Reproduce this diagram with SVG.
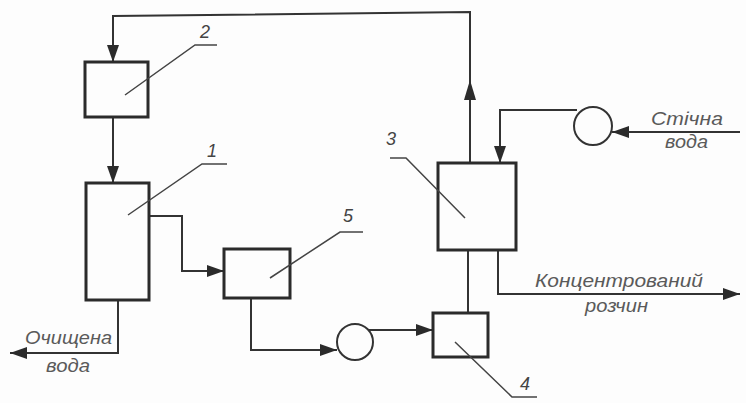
<svg xmlns="http://www.w3.org/2000/svg" width="746" height="403" viewBox="0 0 746 403">
<style>
.bx{fill:none;stroke:#2b2b2b;stroke-width:3}
.ln{fill:none;stroke:#333;stroke-width:2}
.ld{fill:none;stroke:#444;stroke-width:1.5}
.tx{font-family:"Liberation Sans",Arial,sans-serif;font-style:italic;font-size:19px;fill:#5a5a5a}
.num{font-family:"Liberation Sans",Arial,sans-serif;font-style:italic;font-size:18px;fill:#444;text-anchor:middle}
</style>
<defs>
<marker id="ar" markerUnits="userSpaceOnUse" markerWidth="18" markerHeight="14" refX="17" refY="6" orient="auto">
<path d="M0,0 L17,6 L0,12 Z" fill="#2b2b2b"/>
</marker>
</defs>
<rect width="746" height="403" fill="#fdfdfd"/>
<g id="connectors">
<path class="ln" d="M470,163 L470,12 L113,16 L113,62" marker-end="url(#ar)"/>
<polygon points="470,80 464,100 476,100" fill="#2b2b2b"/>
<path class="ln" d="M113,117 L113,183" marker-end="url(#ar)"/>
<path class="ln" d="M149,216 L182,216 L182,271 L224,271" marker-end="url(#ar)"/>
<path class="ln" d="M118,300 L118,353 L10,353" marker-end="url(#ar)"/>
<path class="ln" d="M251,298 L251,350 L337,350" marker-end="url(#ar)"/>
<path class="ln" d="M368,330 L433,330" marker-end="url(#ar)"/>
<path class="ln" d="M468,250 L468,313"/>
<path class="ln" d="M498,250 L498,294 L740,294" marker-end="url(#ar)"/>
<path class="ln" d="M740,132 L612,132" marker-end="url(#ar)"/>
<path class="ln" d="M577,110 L500,110 L500,163" marker-end="url(#ar)"/>
</g>
<g id="node2">
<rect class="bx" x="85" y="62" width="63" height="55"/>
<path class="ld" d="M125,95 L195,45 L217,45"/>
<text class="num" x="205" y="38">2</text>
</g>
<g id="node1">
<rect class="bx" x="86" y="183" width="63" height="117"/>
<path class="ld" d="M128,215 L202,164 L227,164"/>
<text class="num" x="212" y="157">1</text>
</g>
<g id="node5">
<rect class="bx" x="224" y="249" width="66" height="49"/>
<path class="ld" d="M270,278 L340,232 L363,232"/>
<text class="num" x="348" y="222">5</text>
</g>
<g id="node3">
<rect class="bx" x="438" y="163" width="78" height="87"/>
<path class="ld" d="M390,158 L406,158 L465,218"/>
<text class="num" x="391" y="145">3</text>
</g>
<g id="node4">
<rect class="bx" x="433" y="313" width="55" height="44"/>
<path class="ld" d="M455,342 L512,397 L537,397"/>
<text class="num" x="525" y="390">4</text>
</g>
<g id="pump1">
<circle class="ln" cx="355" cy="342" r="18"/>
</g>
<g id="pump2">
<circle class="ln" cx="593" cy="126" r="19"/>
</g>
<g id="labels">
<text class="tx" x="25" y="344" textLength="87" lengthAdjust="spacingAndGlyphs">Очищена</text>
<text class="tx" x="46" y="372" textLength="44" lengthAdjust="spacingAndGlyphs">вода</text>
<text class="tx" x="651" y="125" textLength="72" lengthAdjust="spacingAndGlyphs">Стічна</text>
<text class="tx" x="665" y="148" textLength="43" lengthAdjust="spacingAndGlyphs">вода</text>
<text class="tx" x="535" y="287" textLength="168" lengthAdjust="spacingAndGlyphs">Концентрований</text>
<text class="tx" x="585" y="312" textLength="63" lengthAdjust="spacingAndGlyphs">розчин</text>
</g>
</svg>
